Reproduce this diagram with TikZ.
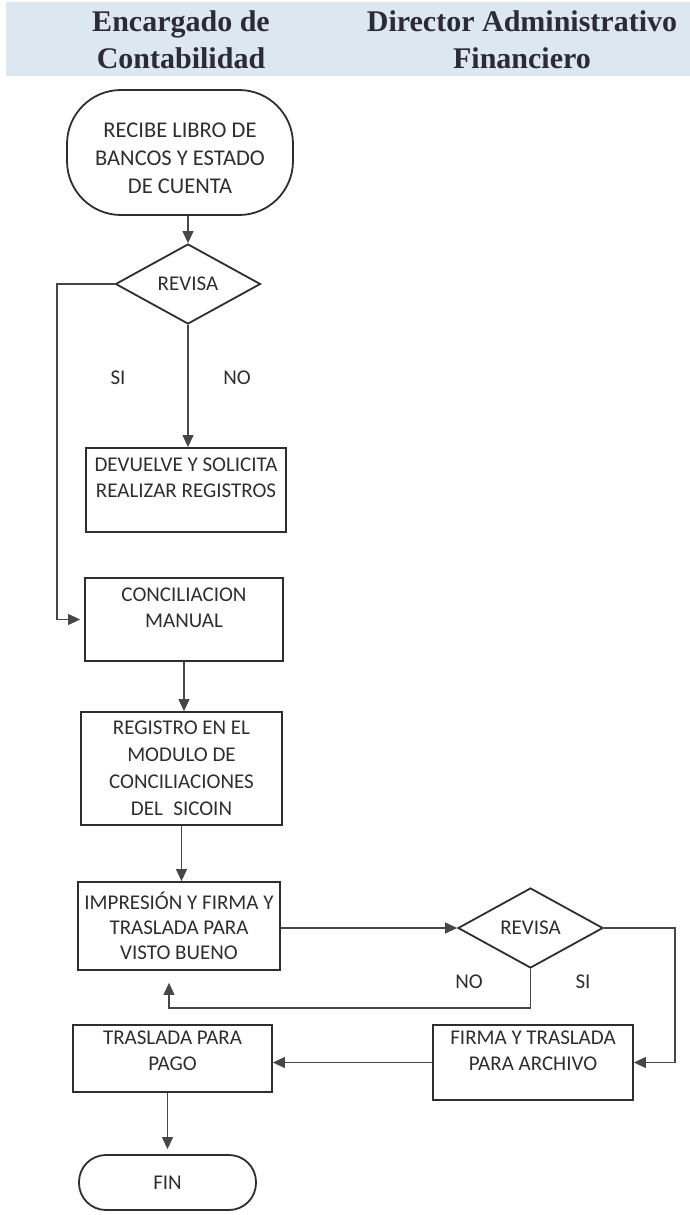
\documentclass[tikz,border=0pt]{standalone}
\usepackage{fontspec}
\setmainfont{Carlito}
\newfontfamily\headfont{Liberation Serif}
\usetikzlibrary{shapes.geometric,arrows.meta}
\definecolor{band}{HTML}{DCE7F0}
\definecolor{ink}{HTML}{2E2E2E}
\definecolor{wire}{HTML}{474747}
\definecolor{headink}{HTML}{2B2B38}

\begin{document}
\begin{tikzpicture}[x=1pt,y=-1pt,
  every node/.style={text=ink},
  body/.style={font=\fontsize{21}{26}\selectfont},
  proc/.style={body, draw=ink, line width=1.8pt, rectangle, align=center, inner sep=0pt},
  decision/.style={body, draw=ink, line width=1.8pt, diamond, aspect=1.8, inner sep=0pt,
    minimum width=145pt, minimum height=80pt},
  flow/.style={draw=wire, line width=1.1pt, -{Triangle[length=12pt,width=11pt]}},
  lbl/.style={body},
  head/.style={font=\headfont\bfseries\fontsize{30}{37}\selectfont, text=headink, align=center}
]
\useasboundingbox (0,0) rectangle (690,1215);

% column headings
\fill[band] (6,2) rectangle (690,76);
\node[head] (h1) at (181,40) {Encargado de\\Contabilidad};
\node[head] (h2) at (522,40) {Director Administrativo\\Financiero};

% process steps
\node[proc, rounded corners=54pt, minimum width=226pt, minimum height=125pt,
      font=\fontsize{22.5}{28}\selectfont] (start) at (180,152.5)
      {\rule{0pt}{26pt}RECIBE LIBRO DE\\BANCOS Y ESTADO\\DE CUENTA};
\node[decision] (d1) at (188,284) {REVISA};
\node[lbl] (si1) at (118,378) {SI};
\node[lbl] (no1) at (237,378) {NO};
\node[proc, minimum width=200pt, minimum height=84pt] (dev) at (186,490)
      {DEVUELVE Y SOLICITA\\REALIZAR REGISTROS\rule[-24pt]{0pt}{0pt}};
\node[proc, minimum width=198pt, minimum height=83pt] (conc) at (184,619.5)
      {CONCILIACION\\MANUAL\rule[-24pt]{0pt}{0pt}};
\node[proc, minimum width=201pt, minimum height=113pt, font=\fontsize{21}{27}\selectfont] (reg) at (181.5,768.5)
      {REGISTRO EN EL\\MODULO DE\\CONCILIACIONES\\DEL\enspace SICOIN};
\node[proc, minimum width=202pt, minimum height=88pt, font=\fontsize{21}{25}\selectfont] (imp) at (179,926)
      {IMPRESIÓN Y FIRMA Y\\TRASLADA PARA\\VISTO BUENO};
\node[decision] (d2) at (530.5,928) {REVISA};
\node[lbl] (no2) at (469,982) {NO};
\node[lbl] (si2) at (583,982) {SI};
\node[proc, minimum width=200pt, minimum height=75pt] (firma) at (533,1062.5)
      {FIRMA Y TRASLADA\\PARA ARCHIVO\rule[-23pt]{0pt}{0pt}};
\node[proc, minimum width=199pt, minimum height=67pt] (pago) at (172.5,1058.5)
      {TRASLADA PARA\\PAGO\rule[-15pt]{0pt}{0pt}};
\node[proc, rounded corners=27pt, minimum width=177pt, minimum height=55pt] (fin) at (167.5,1182.5) {FIN};

% connectors
\coordinate (loopL) at (57,284);
\coordinate (loopR) at (675,928);
\coordinate (backB) at (169,1008);
\draw[flow] (start.south -| d1.north) -- (d1.north);
\draw[flow] (d1.south) -- (d1.south |- dev.north);
\draw[flow, shorten >=4pt] (d1.west) -- (loopL) |- (conc.west);
\draw[flow] (conc.south) -- (conc.south |- reg.north);
\draw[flow] (reg.south) -- (reg.south |- imp.north);
\draw[flow] (imp.east |- d2.west) -- (d2.west);
\draw[flow] (d2.east) -- (loopR) |- (firma.east);
\draw[flow, shorten >=12pt] (d2.south) |- (backB) -- (backB |- imp.south);
\draw[flow] (firma.west) -- (firma.west -| pago.east);
\draw[flow, shorten >=5pt] (pago.south -| fin.north) -- (fin.north);
\end{tikzpicture}
\end{document}
